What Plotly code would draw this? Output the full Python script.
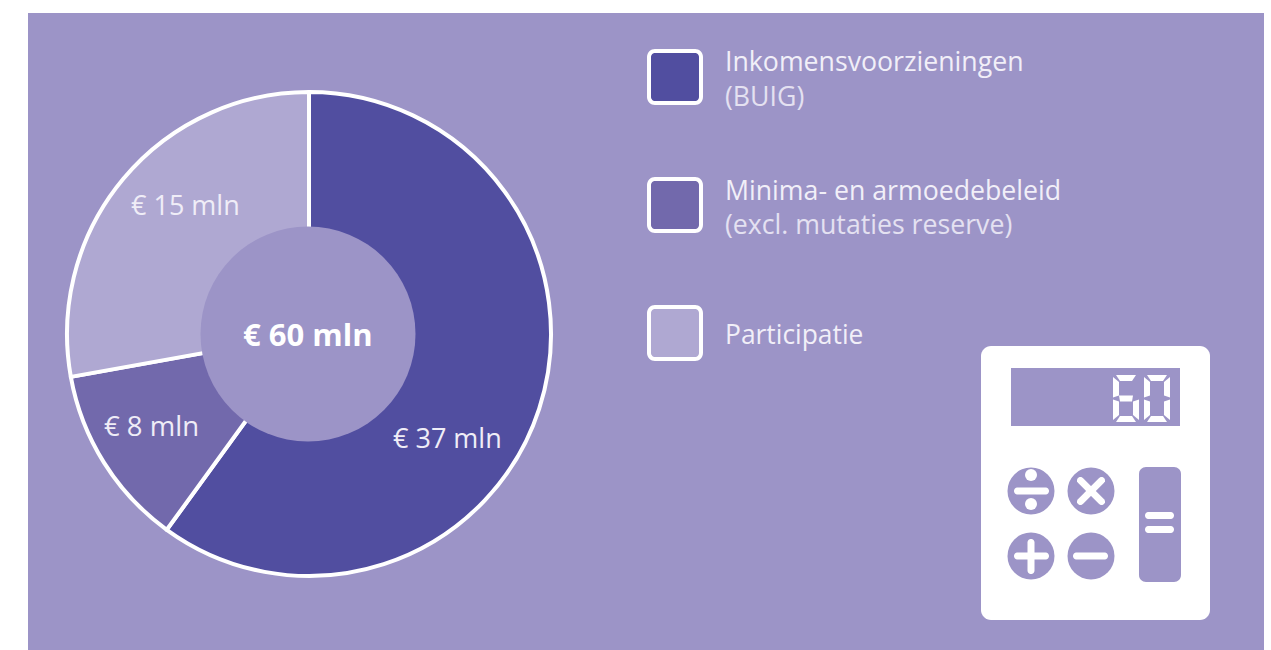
import math
import plotly.graph_objects as go

W, H = 1271, 650
categories = ["Inkomensvoorzieningen (BUIG)", "Minima- en armoedebeleid (excl. mutaties reserve)", "Participatie"]
slice_values = [36.0, 7.3, 16.7]
slice_labels = ["€ 37 mln", "€ 8 mln", "€ 15 mln"]
slice_colors = ["#514EA0", "#7269AC", "#AFA8D2"]
total_label = "€ 60 mln"
legend_lines = [("Inkomensvoorzieningen", "(BUIG)"), ("Minima- en armoedebeleid", "(excl. mutaties reserve)"), ("Participatie", "")]
display_digits = "60"
PANEL = "#9C94C7"
FONT = "Open Sans, sans-serif"

def X(p): return p / W
def Y(p): return 1 - p / H

shapes, annos = [], []

def poly(pts, fill):
    d = "M" + "L".join(f"{X(x):.5f},{Y(y):.5f}" for x, y in pts) + "Z"
    return dict(type="path", xref="paper", yref="paper", path=d, fillcolor=fill, line=dict(width=0), layer="above")

def rrect(x0, y0, x1, y1, r, fill, line=None, lw=0, layer="above"):
    pts = []
    for cx, cy, a0 in [(x1 - r, y0 + r, -90), (x1 - r, y1 - r, 0), (x0 + r, y1 - r, 90), (x0 + r, y0 + r, 180)]:
        for k in range(9):
            a = math.radians(a0 + k * 90 / 8)
            pts.append((cx + r * math.cos(a), cy + r * math.sin(a)))
    s = poly(pts, fill)
    s["layer"] = layer
    if line:
        s["line"] = dict(color=line, width=lw)
    return s

def circle(cx, cy, r, fill):
    return dict(type="circle", xref="paper", yref="paper", x0=X(cx - r), x1=X(cx + r), y0=Y(cy + r), y1=Y(cy - r),
                fillcolor=fill, line=dict(width=0), layer="above")

def bar(x0, y0, x1, y1):
    r = min(abs(x1 - x0), abs(y1 - y0)) / 2
    return rrect(x0, y0, x1, y1, r, "white")

def text(x, y, s, size, color="white", anchor="left", weight=None):
    t = f"<b>{s}</b>" if weight else s
    annos.append(dict(x=X(x), y=Y(y), xref="paper", yref="paper", text=t, showarrow=False, xanchor=anchor, yanchor="middle",
                      font=dict(family=FONT, size=size, color=color), xshift=0, yshift=0))

# panel
shapes.append(dict(type="rect", xref="paper", yref="paper", x0=X(28), x1=X(1264), y0=0, y1=Y(13), fillcolor=PANEL, line=dict(width=0), layer="below"))

# pie hole cover
shapes.append(circle(308, 334, 107.5, PANEL))

# pie value labels
text(447, 437, slice_labels[0], 27, color="#EFEDF7", anchor="center")
text(151, 425, slice_labels[1], 27.5, color="#EFEDF7", anchor="center")
text(185, 204, slice_labels[2], 27, color="#EFEDF7", anchor="center")
text(308, 334, total_label, 31, anchor="center", weight=True)

# legend
for (y0, color, lines) in zip([51, 179, 307], slice_colors, legend_lines):
    shapes.append(rrect(649, y0, 701, y0 + 52, 6, color, "white", 4))
    if lines[1]:
        text(723, y0 + 10, lines[0], 26.7, color="#F1EFF8")
        text(723, y0 + 44, lines[1], 26.7, color="#E4E1F1")
    else:
        text(723, y0 + 27, lines[0], 26.4, color="#F1EFF8")

# calculator
shapes.append(rrect(981, 346, 1210, 620, 10, "white"))
shapes.append(rrect(1011, 368, 1180, 426, 0.1, PANEL))
shapes.append(rrect(1139, 467, 1181, 582, 7, PANEL))
shapes.append(bar(1145, 512, 1174, 519))
shapes.append(bar(1145, 526, 1174, 533))
for cx, cy in [(1031, 491), (1091, 491), (1031, 556), (1091, 556)]:
    shapes.append(circle(cx, cy, 23.5, PANEL))
# divide
shapes.append(bar(1014, 487.5, 1049, 494.5))
shapes.append(circle(1031, 475, 6, "white"))
shapes.append(circle(1031, 504, 6, "white"))
# times
c, s_, hl, hw = 1091, 491, 15, 3.5
for sign in (1, -1):
    ux, uy = math.sqrt(.5), sign * math.sqrt(.5)
    nx, ny = -uy, ux
    pts = []
    for a in range(-90, 91, 30):
        r = math.radians(a)
        pts.append((c + hl * ux + hw * (math.cos(r) * ux + math.sin(r) * nx), s_ + hl * uy + hw * (math.cos(r) * uy + math.sin(r) * ny)))
    for a in range(90, 271, 30):
        r = math.radians(a)
        pts.append((c - hl * ux + hw * (math.cos(r) * ux + math.sin(r) * nx), s_ - hl * uy + hw * (math.cos(r) * uy + math.sin(r) * ny)))
    shapes.append(poly(pts, "white"))
# plus, minus
shapes.append(bar(1014, 552.5, 1049, 559.5))
shapes.append(bar(1027.5, 539, 1034.5, 574))
shapes.append(bar(1073, 552.5, 1108, 559.5))

# seven-segment display icon
SEGS = {"6": "acdefg", "0": "abcdef"}
def digit(ch, x0):
    w, h, t = 26, 47, 6
    x1 = x0 + w; y0 = 375; y1 = y0 + h; ym = (y0 + y1) / 2
    g = 1
    geo = {
        "a": [(x0 + g + 2, y0), (x1 - g - 2, y0), (x1 - t - g, y0 + t), (x0 + t + g, y0 + t)],
        "d": [(x0 + g + 2, y1), (x1 - g - 2, y1), (x1 - t - g, y1 - t), (x0 + t + g, y1 - t)],
        "g": [(x0 + t, ym - t / 2), (x1 - t, ym - t / 2), (x1 - t - 1, ym + t / 2), (x0 + t + 1, ym + t / 2)],
        "f": [(x0, y0 + g + 1), (x0 + t, y0 + t + g), (x0 + t, ym - 3), (x0, ym - 1)],
        "e": [(x0, ym + 1), (x0 + t, ym + 3), (x0 + t, y1 - t - g), (x0, y1 - g - 1)],
        "b": [(x1, y0 + g + 1), (x1 - t, y0 + t + g), (x1 - t, ym - 3), (x1, ym - 1)],
        "c": [(x1, ym + 1), (x1 - t, ym + 3), (x1 - t, y1 - t - g), (x1, y1 - g - 1)],
    }
    for seg in SEGS[ch]:
        shapes.append(poly(geo[seg], "white"))
digit(display_digits[0], 1113)
digit(display_digits[1], 1144)

fig = go.Figure(go.Pie(
    labels=categories, values=slice_values, sort=False, direction="clockwise", rotation=0,
    marker=dict(colors=slice_colors, line=dict(color="white", width=4)),
    textinfo="none", hole=0.3, showlegend=False, hoverinfo="label+value",
    domain=dict(x=[X(309 - 242), X(309 + 242)], y=[Y(334 + 242), Y(334 - 242)]),
))
fig.update_layout(width=W, height=H, margin=dict(l=0, r=0, t=0, b=0), paper_bgcolor="white",
                  plot_bgcolor="white", shapes=shapes, annotations=annos, showlegend=False)
fig.write_html("out.html", config=dict(displayModeBar=False),
               post_script="document.body.style.margin='0';document.body.style.overflow='hidden';")
